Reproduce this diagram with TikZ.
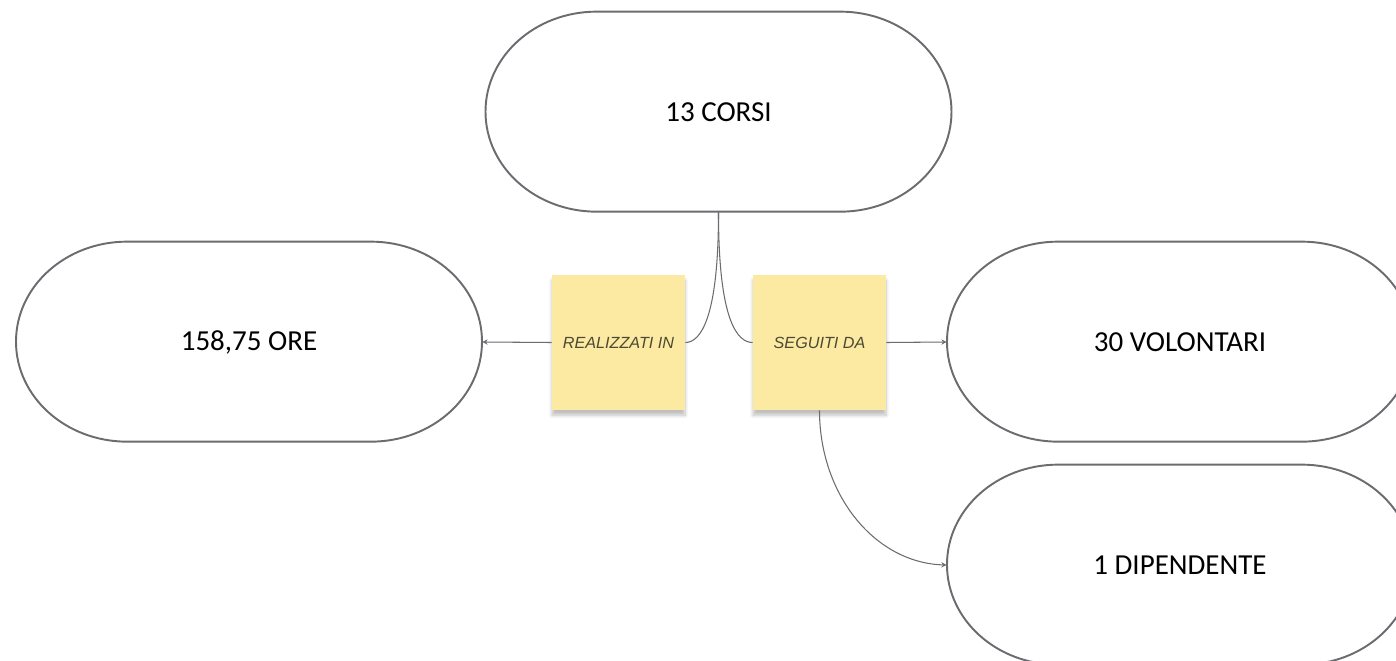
\documentclass[tikz,border=0pt]{standalone}
\usepackage{fontspec}
\setmainfont{Carlito}
\newfontfamily\notefont{Liberation Sans}
\usetikzlibrary{arrows.meta,shadows.blur}
\definecolor{edgegray}{HTML}{6B6B70}
\definecolor{noteyellow}{HTML}{FCE9A2}
\definecolor{notetext}{HTML}{4B4A33}

\begin{document}
\begin{tikzpicture}[scale=0.2]
\tikzstyle{every node}+=[inner sep=0pt]
\tikzstyle{pill}=[minimum width=9.32cm, minimum height=4cm, font=\fontsize{16.5}{20}\selectfont]
\tikzstyle{outline}=[draw=edgegray, line width=1.1pt]
\tikzstyle{note}=[fill=noteyellow, minimum width=2.66cm, minimum height=2.7cm, blur shadow={shadow xshift=0pt, shadow yshift=-3pt, shadow blur steps=6, shadow opacity=25}, font=\notefont\itshape\fontsize{9.2}{10}\selectfont, text=notetext]
\tikzstyle{link}=[draw=edgegray, line width=0.6pt]
\tikzstyle{tip}=[-{Stealth[length=3pt,width=3pt]}]
\useasboundingbox (0,0) rectangle (139.6,-66);
\clip (0,0) rectangle (139.6,-66);
\node [pill] (corsi) at (71.85,-11.2) {13 CORSI};
\node [pill] (ore) at (24.9,-34.2) {158,75 ORE};
\node [pill] (volontari) at (118,-34.2) {30 VOLONTARI};
\node [pill] (dipendente) at (118,-56.5) {1 DIPENDENTE};
\foreach \n in {corsi,ore,volontari,dipendente}
  \draw [outline] (\n.north) ++(-12.2,0) -- ++(24.4,0)
    arc [start angle=90, end angle=-90, x radius=11.1, y radius=10]
    -- ++(-24.4,0)
    arc [start angle=270, end angle=90, x radius=11.1, y radius=10] -- cycle;
\node [note] (realizzati) at (61.85,-34.25) {REALIZZATI IN};
\node [note] (seguiti) at (81.95,-34.25) {SEGUITI DA};
\draw [link] (corsi.south) .. controls (71.85,-32) and (70,-34.25) .. (realizzati.east);
\draw [link] (corsi.south) .. controls (71.85,-32) and (73.7,-34.25) .. (seguiti.west);
\draw [link, tip] (realizzati.west) -- (ore.east);
\draw [link, tip] (seguiti.east) -- (volontari.west);
\draw [link, tip] (seguiti.south) .. controls (81.95,-49.5) and (87.5,-56.3) .. (dipendente.west);
\end{tikzpicture}
\end{document}
